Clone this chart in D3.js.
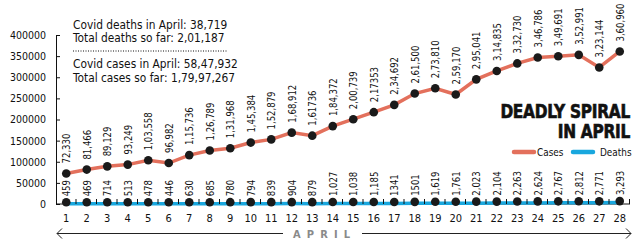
<!DOCTYPE html>
<html>
<head>
<meta charset="utf-8">
<script src="https://cdn.jsdelivr.net/npm/d3@7"></script>
<style>
  body { margin: 0; background: #fff; }
  text { font-family: "DejaVu Sans Condensed", "DejaVu Sans", sans-serif; fill: #111; }
</style>
</head>
<body>
<svg id="chart" width="640" height="248"></svg>
<script>
// april days
let days = [1,2,3,4,5,6,7,8,9,10,11,12,13,14,15,16,17,18,19,20,21,22,23,24,25,26,27,28]

let cases = [72330,81466,89129,93249,103558,96982,115736,126789,131968,145384,152879,168912,161736,184372,
  200739,217353,234692,261500,273810,259170,295041,314835,332730,346786,349691,352991,323144,360960]
let caseLabels = ["72,330","81,466","89,129","93,249","1,03,558","96,982","1,15,736","1,26,789","1,31,968","1,45,384",
  "1,52,879","1,68,912","1,61736","1,84,372","2,00,739","2,17353","2,34,692","2,61,500","2,73,810","2,59,170",
  "2,95,041","3,14,835","3,32,730","3,46,786","3,49,691","3,52,991","3,23,144","3,60,960"]

let deaths = [459,469,714,513,478,446,630,685,780,794,839,904,879,1027,1038,1185,1341,1501,1619,1761,
  2023,2104,2263,2624,2767,2812,2771,3293]
let deathLabels = ["459","469","714","513","478","446","630","685","780","794","839","904","879","1,027","1,038",
  "1,185","1341","1501","1,619","1,761","2,023","2,104","2,263","2,624","2,767","2,812","2,771","3,293"]

let yTicks = [0,50000,100000,150000,200000,250000,300000,350000,400000]

let notes = ["Covid deaths in April: 38,719","Total deaths so far: 2,01,187",
  "Covid cases in April: 58,47,932","Total cases so far: 1,79,97,267"]

const casesColor = "#e3705c"
const deathsColor = "#19a7de"

var svg = d3.select("#chart")

var x = d3.scaleBand().domain(days).range([56, 630])
var y = d3.scaleLinear().domain([0, 400000]).range([204, 35])
const cx = d => x(d) + x.bandwidth() / 2

// y axis
var yAxis = svg.append("g")
  .attr("transform", "translate(56,0)")
  .call(d3.axisLeft(y).tickValues(yTicks).tickSize(-4).tickSizeOuter(0).tickPadding(10).tickFormat(d => d))
yAxis.selectAll("text").style("font-size", "10.5px").attr("fill", "#111")
yAxis.selectAll("line, path").attr("stroke", "#111")

// x axis base line
svg.append("line")
  .attr("x1", 56).attr("x2", 630).attr("y1", 204).attr("y2", 204)
  .attr("stroke", "#111")

// x tick labels
svg.selectAll(".xlab")
  .data(days)
  .enter()
  .append("text")
  .attr("class", "xlab")
  .attr("x", d => cx(d))
  .attr("y", 222)
  .attr("text-anchor", "middle")
  .style("font-size", "11px")
  .text(d => d)

// lines
var valueLine = d3.line().x((d, i) => cx(days[i])).y(d => y(d))
svg.append("path")
  .datum(cases)
  .attr("d", valueLine)
  .attr("fill", "none")
  .attr("stroke", casesColor)
  .attr("stroke-width", 3.5)

svg.append("path")
  .datum(deaths)
  .attr("d", valueLine)
  .attr("fill", "none")
  .attr("stroke", deathsColor)
  .attr("stroke-width", 3.5)

// minor ticks between days
svg.selectAll(".minor")
  .data(days)
  .enter()
  .append("line")
  .attr("class", "minor")
  .attr("x1", d => x(d) + x.step() - 0.5)
  .attr("x2", d => x(d) + x.step() - 0.5)
  .attr("y1", 199).attr("y2", 204)
  .attr("stroke", "#111")

// dots
svg.selectAll(".cdot")
  .data(cases)
  .enter()
  .append("circle")
  .attr("cx", (d, i) => cx(days[i]))
  .attr("cy", d => y(d))
  .attr("r", 4.3)
  .attr("fill", "#1a1a1a")

svg.selectAll(".ddot")
  .data(deaths)
  .enter()
  .append("circle")
  .attr("cx", (d, i) => cx(days[i]))
  .attr("cy", d => y(d) - 1.5)
  .attr("r", 4.3)
  .attr("fill", "#1a1a1a")

// value labels (rotated, squeezed to look like the narrow face)
svg.selectAll(".clab")
  .data(cases)
  .enter()
  .append("text")
  .attr("transform", (d, i) => `translate(${cx(days[i])},${y(d) - 10}) rotate(-90) scale(0.86,1)`)
  .attr("dy", "0.35em")
  .style("font-size", "11px")
  .text((d, i) => caseLabels[i])

svg.selectAll(".dlab")
  .data(deaths)
  .enter()
  .append("text")
  .attr("transform", (d, i) => `translate(${cx(days[i])},${y(d) - 7.5}) rotate(-90) scale(0.86,1)`)
  .attr("dy", "0.35em")
  .style("font-size", "11px")
  .text((d, i) => deathLabels[i])

// annotation block
var noteY = [29, 42, 68, 81.5]
svg.selectAll(".note")
  .data(notes)
  .enter()
  .append("text")
  .attr("x", 73)
  .attr("y", (d, i) => noteY[i])
  .style("font-size", "11.8px")
  .text(d => d)
svg.append("line")
  .attr("x1", 73).attr("x2", 228).attr("y1", 51).attr("y2", 51)
  .attr("stroke", "#111").attr("stroke-dasharray", "1,1.5")

// title
var title = [{t: "DEADLY SPIRAL", y: 118}, {t: "IN APRIL", y: 138}]
svg.selectAll(".title")
  .data(title)
  .enter()
  .append("text")
  .attr("transform", d => `translate(630,${d.y}) scale(0.9,1)`)
  .attr("text-anchor", "end")
  .style("font-weight", "bold")
  .style("font-size", "19px")
  .style("letter-spacing", "-0.3px")
  .style("stroke", "#111").style("stroke-width", 0.6)
  .text(d => d.t)

// legend
var legend = [{name: "Cases", color: casesColor, x: 512}, {name: "Deaths", color: deathsColor, x: 571}]
var lg = svg.selectAll(".leg").data(legend).enter().append("g")
lg.append("line")
  .attr("x1", d => d.x + 2).attr("x2", d => d.x + 22).attr("y1", 152).attr("y2", 152)
  .attr("stroke", d => d.color).attr("stroke-width", 4.5).attr("stroke-linecap", "round")
lg.append("text")
  .attr("transform", d => `translate(${d.x + (d.name == "Cases" ? 25 : 29)},156) scale(0.9,1)`)
  .style("font-size", "11px")
  .text(d => d.name)

// APRIL arrow
svg.append("line").attr("x1", 57).attr("x2", 283).attr("y1", 233.5).attr("y2", 233.5).attr("stroke", "#222")
svg.append("line").attr("x1", 362).attr("x2", 631).attr("y1", 233.5).attr("y2", 233.5).attr("stroke", "#222")
svg.append("path").attr("d", "M62,228.5 L57,233.5 L62,238.5").attr("fill", "none").attr("stroke", "#222")
svg.append("path").attr("d", "M626,228.5 L631,233.5 L626,238.5").attr("fill", "none").attr("stroke", "#222")
svg.append("text")
  .attr("x", 293).attr("y", 238)
  .attr("textLength", 57)
  .attr("lengthAdjust", "spacing")
  .style("font-weight", "bold")
  .style("font-size", "11px")
  .style("fill", "#8a8a8a")
  .text("APRIL")
</script>
</body>
</html>
